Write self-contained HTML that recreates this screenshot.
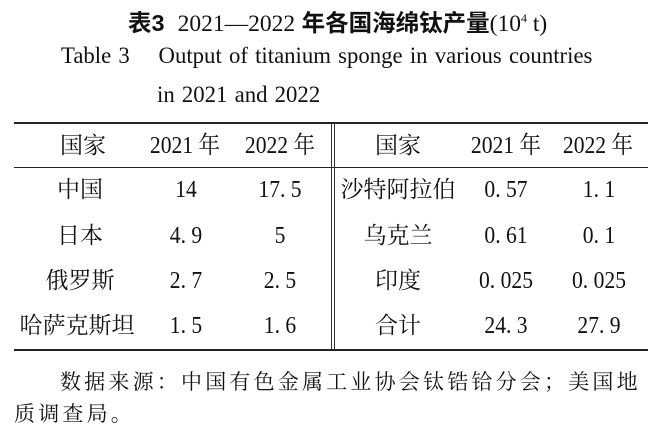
<!DOCTYPE html>
<html><head><meta charset="utf-8"><style>
body{margin:0;width:654px;height:442px;background:#fff;position:relative;overflow:hidden;color:#111;font-family:"Liberation Serif","Noto Serif CJK SC",serif}
.a{position:absolute;white-space:nowrap}
.c{position:absolute;white-space:nowrap;transform:translateX(-50%);font-size:23px;line-height:30px;font-family:"Liberation Serif","Noto Serif CJK SC",serif}
.n{font-size:24px;transform:translateX(-50%) scaleX(0.9)}
.r{position:absolute;left:14px;width:634px;background:#222}
</style></head><body>
<div class="a" style="left:128px;top:4px;font-size:23.5px;font-family:'Liberation Sans','Noto Sans CJK SC',sans-serif;font-weight:bold">表3&nbsp;&nbsp;<span style="font-family:'Liberation Serif',serif;font-weight:normal">2021—2022</span> 年各国海绵钛产量<span style="font-family:'Liberation Serif',serif;font-weight:normal">(10<sup style="font-size:12px">4</sup> t)</span></div>
<div class="a" style="left:61px;top:43px;font-size:23px;transform:scaleX(0.99);transform-origin:left;word-spacing:1.5px">Table 3&nbsp;&nbsp;&nbsp;&nbsp;Output of titanium sponge in various countries</div>
<div class="a" style="left:157px;top:82px;font-size:23px;transform:scaleX(0.99);transform-origin:left;word-spacing:1.5px">in 2021 and 2022</div>
<div class="r" style="top:122px;height:2px"></div>
<div class="r" style="top:167px;height:1px"></div>
<div class="r" style="top:349px;height:2px"></div>
<div style="position:absolute;left:331px;top:123px;width:1px;height:227px;background:#333"></div>
<div style="position:absolute;left:334px;top:123px;width:1px;height:227px;background:#333"></div>

<div class="c" style="left:83px;top:131px">国家</div><div class="c n" style="left:185px;top:131px">2021 年</div><div class="c n" style="left:280px;top:131px">2022 年</div>
<div class="c" style="left:398px;top:131px">国家</div><div class="c n" style="left:506px;top:131px">2021 年</div><div class="c n" style="left:598px;top:131px">2022 年</div>

<div class="c" style="left:80px;top:175px">中国</div><div class="c n" style="left:186px;top:175px">14</div><div class="c n" style="left:280px;top:175px">17. 5</div>
<div class="c" style="left:398px;top:175px">沙特阿拉伯</div><div class="c n" style="left:506px;top:175px">0. 57</div><div class="c n" style="left:599px;top:175px">1. 1</div>

<div class="c" style="left:80px;top:221px">日本</div><div class="c n" style="left:186px;top:221px">4. 9</div><div class="c n" style="left:280px;top:221px">5</div>
<div class="c" style="left:398px;top:221px">乌克兰</div><div class="c n" style="left:506px;top:221px">0. 61</div><div class="c n" style="left:599px;top:221px">0. 1</div>

<div class="c" style="left:80px;top:266px">俄罗斯</div><div class="c n" style="left:186px;top:266px">2. 7</div><div class="c n" style="left:280px;top:266px">2. 5</div>
<div class="c" style="left:398px;top:266px">印度</div><div class="c n" style="left:506px;top:266px">0. 025</div><div class="c n" style="left:599px;top:266px">0. 025</div>

<div class="c" style="left:77px;top:311px">哈萨克斯坦</div><div class="c n" style="left:186px;top:311px">1. 5</div><div class="c n" style="left:280px;top:311px">1. 6</div>
<div class="c" style="left:398px;top:311px">合计</div><div class="c n" style="left:506px;top:311px">24. 3</div><div class="c n" style="left:599px;top:311px">27. 9</div>

<div class="a" style="left:60px;top:366px;font-size:21px;letter-spacing:3.2px">数据来源：中国有色金属工业协会钛锆铪分会；美国地</div>
<div class="a" style="left:14px;top:398px;font-size:21px;letter-spacing:3.2px">质调查局。</div>
</body></html>
